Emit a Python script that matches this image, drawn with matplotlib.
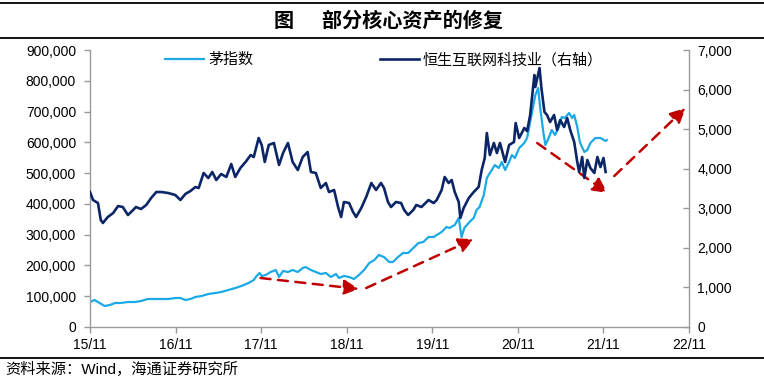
import matplotlib
matplotlib.use("Agg")
import matplotlib.pyplot as plt
import matplotlib.dates as mdates
from matplotlib.lines import Line2D
from matplotlib.ticker import FuncFormatter, MultipleLocator
import pandas as pd

plt.rcParams['font.family'] = ['Liberation Sans', 'Noto Sans CJK SC', 'DejaVu Sans']

# ---------------- data ----------------
mao_dates = ["2015-11-01","2015-11-21","2015-12-12","2016-01-03","2016-01-25","2016-02-16","2016-03-11","2016-04-11",
             "2016-05-10","2016-06-06","2016-07-05","2016-08-05","2016-09-01","2016-09-30","2016-10-30","2016-11-21",
             "2016-12-12","2017-01-03","2017-01-24","2017-02-19","2017-03-20","2017-04-19","2017-05-14","2017-06-14",
             "2017-07-13","2017-08-08","2017-09-08","2017-09-30","2017-10-12","2017-10-25","2017-11-03","2017-11-20",
             "2017-12-11","2018-01-02","2018-01-16","2018-02-02","2018-02-23","2018-03-15","2018-04-06","2018-04-27",
             "2018-05-09","2018-06-01","2018-06-22","2018-07-13","2018-08-04","2018-08-25","2018-09-16","2018-09-29",
             "2018-10-20","2018-11-11","2018-12-02","2018-12-23","2019-01-14","2019-02-05","2019-02-27","2019-03-18",
             "2019-04-09","2019-05-01","2019-05-17","2019-06-08","2019-06-29","2019-07-21","2019-08-12","2019-09-03",
             "2019-09-24","2019-10-16","2019-11-07","2019-11-20","2019-12-11","2020-01-01","2020-01-14","2020-02-05",
             "2020-02-22","2020-03-05","2020-03-17","2020-04-08","2020-04-26","2020-05-08","2020-05-21","2020-06-08",
             "2020-06-21","2020-07-12","2020-07-25","2020-08-11","2020-08-24","2020-09-07","2020-09-24","2020-10-06",
             "2020-10-19","2020-11-06","2020-11-28","2020-12-10","2020-12-23","2021-01-14","2021-01-26","2021-02-04",
             "2021-02-17","2021-02-26","2021-03-12","2021-03-25","2021-04-08","2021-04-25","2021-05-07","2021-05-20",
             "2021-06-07","2021-06-20","2021-06-29","2021-07-12","2021-07-23","2021-08-11","2021-08-24","2021-09-06",
             "2021-09-27","2021-10-19","2021-11-10","2021-11-15"]
mao_values = [81200, 87700, 78000, 68200, 71500, 78000, 78000, 81200, 81200, 84500, 91000, 91000, 91000, 91000,
              94200, 94200, 87700, 91000, 97500, 100700, 107200, 110500, 113700, 120200, 126700, 133200, 143000,
              152700, 165700, 175500, 165700, 169000, 178700, 185200, 162500, 181900, 178700, 185200, 178700, 191700,
              194900, 185200, 178700, 172200, 175500, 162500, 172200, 159200, 165700, 162500, 156000, 169000, 185200,
              207900, 217700, 233900, 227400, 211200, 211200, 227400, 240400, 240400, 256700, 272900, 276200, 292400,
              292400, 298900, 308700, 324900, 321700, 331400, 354200, 292400, 321700, 341200, 354200, 380100, 389900,
              428900, 484100, 510100, 526300, 516600, 536100, 510100, 536100, 558800, 549100, 581600, 597800, 615000,
              666100, 753800, 776500, 711600, 633600, 591300, 614100, 640100, 623800, 649800, 682300, 679100, 695300,
              679100, 688800, 649800, 601100, 568600, 575100, 597800, 614100, 614100, 604300, 607500]

hs_dates = ["2015-11-01","2015-11-14","2015-12-05","2015-12-17","2015-12-26","2016-01-16","2016-02-08","2016-02-29",
            "2016-03-20","2016-04-11","2016-05-03","2016-05-15","2016-06-06","2016-06-28","2016-07-19","2016-08-10",
            "2016-09-01","2016-09-30","2016-10-30","2016-11-21","2016-12-12","2017-01-03","2017-01-24","2017-02-07",
            "2017-02-28","2017-03-20","2017-04-06","2017-04-23","2017-05-14","2017-06-05","2017-06-26","2017-07-13",
            "2017-08-04","2017-08-26","2017-09-17","2017-09-30","2017-10-21","2017-11-03","2017-11-16","2017-12-03",
            "2017-12-25","2018-01-16","2018-02-02","2018-02-23","2018-03-15","2018-04-06","2018-04-27","2018-05-18",
            "2018-06-01","2018-06-22","2018-07-13","2018-08-04","2018-08-17","2018-09-08","2018-09-25","2018-10-08",
            "2018-10-20","2018-11-11","2018-11-28","2018-12-11","2019-01-02","2019-01-23","2019-02-14","2019-03-06",
            "2019-03-27","2019-04-09","2019-04-26","2019-05-09","2019-05-30","2019-06-21","2019-07-04","2019-07-21",
            "2019-08-12","2019-08-25","2019-09-16","2019-10-16","2019-11-07","2019-11-20","2019-12-11","2019-12-24",
            "2020-01-10","2020-01-23","2020-02-05","2020-02-22","2020-02-29","2020-03-14","2020-04-05","2020-04-26",
            "2020-05-17","2020-05-30","2020-06-12","2020-06-21","2020-07-04","2020-07-21","2020-08-03","2020-08-16",
            "2020-09-07","2020-09-24","2020-10-15","2020-10-22","2020-11-06","2020-11-28","2020-12-10","2020-12-23",
            "2021-01-10","2021-01-14","2021-02-01","2021-02-09","2021-02-22","2021-03-05","2021-03-18","2021-04-04",
            "2021-04-17","2021-04-30","2021-05-17","2021-05-30","2021-06-12","2021-06-29","2021-07-12","2021-07-20",
            "2021-08-02","2021-08-11","2021-08-24","2021-09-06","2021-09-23","2021-10-06","2021-10-19","2021-11-01",
            "2021-11-10"]
hs_values = [3411, 3209, 3133, 2704, 2628, 2780, 2881, 3058, 3032, 2830, 2957, 3032, 2982, 3083, 3260, 3411, 3411,
             3386, 3336, 3209, 3361, 3437, 3538, 3513, 3892, 3765, 3917, 3715, 3866, 3791, 4119, 3791, 4018, 4170,
             4346, 4296, 4776, 4599, 4170, 4599, 4650, 4094, 4397, 4650, 4170, 3967, 4296, 4422, 3917, 3892, 3513,
             3639, 3411, 3462, 3032, 2780, 3159, 3133, 2906, 2780, 3007, 3285, 3639, 3462, 3639, 3513, 3159, 3032,
             3159, 3133, 2957, 2830, 2957, 3083, 3032, 3209, 3133, 3209, 3462, 3791, 3639, 3715, 3411, 3159, 2754,
             3007, 3260, 3411, 3538, 3967, 4271, 4902, 4346, 4650, 4397, 4650, 4170, 4599, 4675, 5155, 4776, 5029,
             4950, 5357, 6368, 6065, 6545, 6040, 5433, 5357, 5180, 5357, 4978, 5231, 5054, 5281, 4978, 4675, 4170,
             3917, 4296, 3765, 4220, 4018, 3892, 4296, 4043, 4271, 3917]

series_names = ["茅指数", "恒生互联网科技业（右轴）"]

# arrow annotations (start date, start value, end date, end value) on left-axis scale
arrow_starts = [("2017-10-29", 159200), ("2019-01-23", 126700), ("2021-01-22", 597800), ("2021-12-17", 490600)]
arrow_ends = [("2018-12-23", 123500), ("2020-04-26", 285900), ("2021-11-18", 435400), ("2022-10-17", 711600)]

x_tick_dates = ["2015-11-01", "2016-11-01", "2017-11-01", "2018-11-01", "2019-11-01", "2020-11-01",
                "2021-11-01", "2022-11-01"]

title_text = "图      部分核心资产的修复"
source_text = "资料来源：Wind，海通证券研究所"

# ---------------- figure ----------------
W, H = 764, 382
fig = plt.figure(figsize=(W / 100, H / 100), dpi=100)
fig.patch.set_facecolor("white")

ax_left, ax_right, ax_top, ax_bot = 90, 689, 50, 327
ax = fig.add_axes([ax_left / W, 1 - ax_bot / H, (ax_right - ax_left) / W, (ax_bot - ax_top) / H])
ax2 = ax.twinx()

light = "#1BAAE6"
navy = "#0B2566"
gray = "#9A9A9A"
red = "#C00000"

l1, = ax.plot(pd.to_datetime(mao_dates), mao_values, color=light, lw=1.6, label=series_names[0])
l2, = ax2.plot(pd.to_datetime(hs_dates), hs_values, color=navy, lw=1.9, label=series_names[1])

xt = pd.to_datetime(x_tick_dates)
ax.set_xlim(xt[0], xt[-1])
ax.set_xticks(xt)
ax.xaxis.set_major_formatter(mdates.DateFormatter("%y/%m"))
ax.set_ylim(0, 900000)
ax.yaxis.set_major_locator(MultipleLocator(100000))
ax.yaxis.set_major_formatter(FuncFormatter(lambda v, p: f"{int(v):,}"))
ax2.set_ylim(0, 7000)
ax2.yaxis.set_major_locator(MultipleLocator(1000))
ax2.yaxis.set_major_formatter(FuncFormatter(lambda v, p: f"{int(v):,}"))

for a in (ax, ax2):
    a.spines["top"].set_visible(False)
    for s in a.spines.values():
        s.set_color(gray)
        s.set_linewidth(1.0)
ax.spines["right"].set_visible(False)
ax2.spines["left"].set_visible(False)
ax2.spines["bottom"].set_visible(False)

ax.tick_params(axis="y", direction="out", length=4, width=1, color=gray, labelsize=10, pad=6)
ax.tick_params(axis="x", direction="out", length=4, width=1, color=gray, labelsize=10, pad=4)
ax2.tick_params(axis="y", direction="in", length=4, width=1, color=gray, labelsize=10, pad=6)

# arrows
for (sd, sv), (ed, ev) in zip(arrow_starts, arrow_ends):
    ax.annotate("", xy=(pd.Timestamp(ed), ev), xytext=(pd.Timestamp(sd), sv),
                arrowprops=dict(arrowstyle="-|>,head_length=0.9,head_width=0.45", color=red, lw=1.8,
                                linestyle=(0, (4, 3)), shrinkA=0, shrinkB=0),
                annotation_clip=False, zorder=5)

# legend
leg = ax.legend(handles=[l1, l2], loc="center left", bbox_to_anchor=((165 - ax_left) / (ax_right - ax_left), 0.964),
                ncol=2, frameon=False, fontsize=10.8, handlelength=2.6, handletextpad=0.3, columnspacing=8.4,
                borderpad=0, borderaxespad=0)
leg.set_zorder(10)

# title and rules
for yy in (3, 38, 358):
    fig.add_artist(Line2D([0, 1], [1 - yy / H, 1 - yy / H], transform=fig.transFigure, color="black", lw=1.3))
fig.text(388 / W, 1 - 20 / H, title_text, ha="center", va="center", fontsize=14.5, fontweight="bold",
         family=["Noto Sans CJK SC", "DejaVu Sans"])
fig.text(5 / W, 1 - 369 / H, source_text, ha="left", va="center", fontsize=11)

fig.savefig("out.png", dpi=100)
